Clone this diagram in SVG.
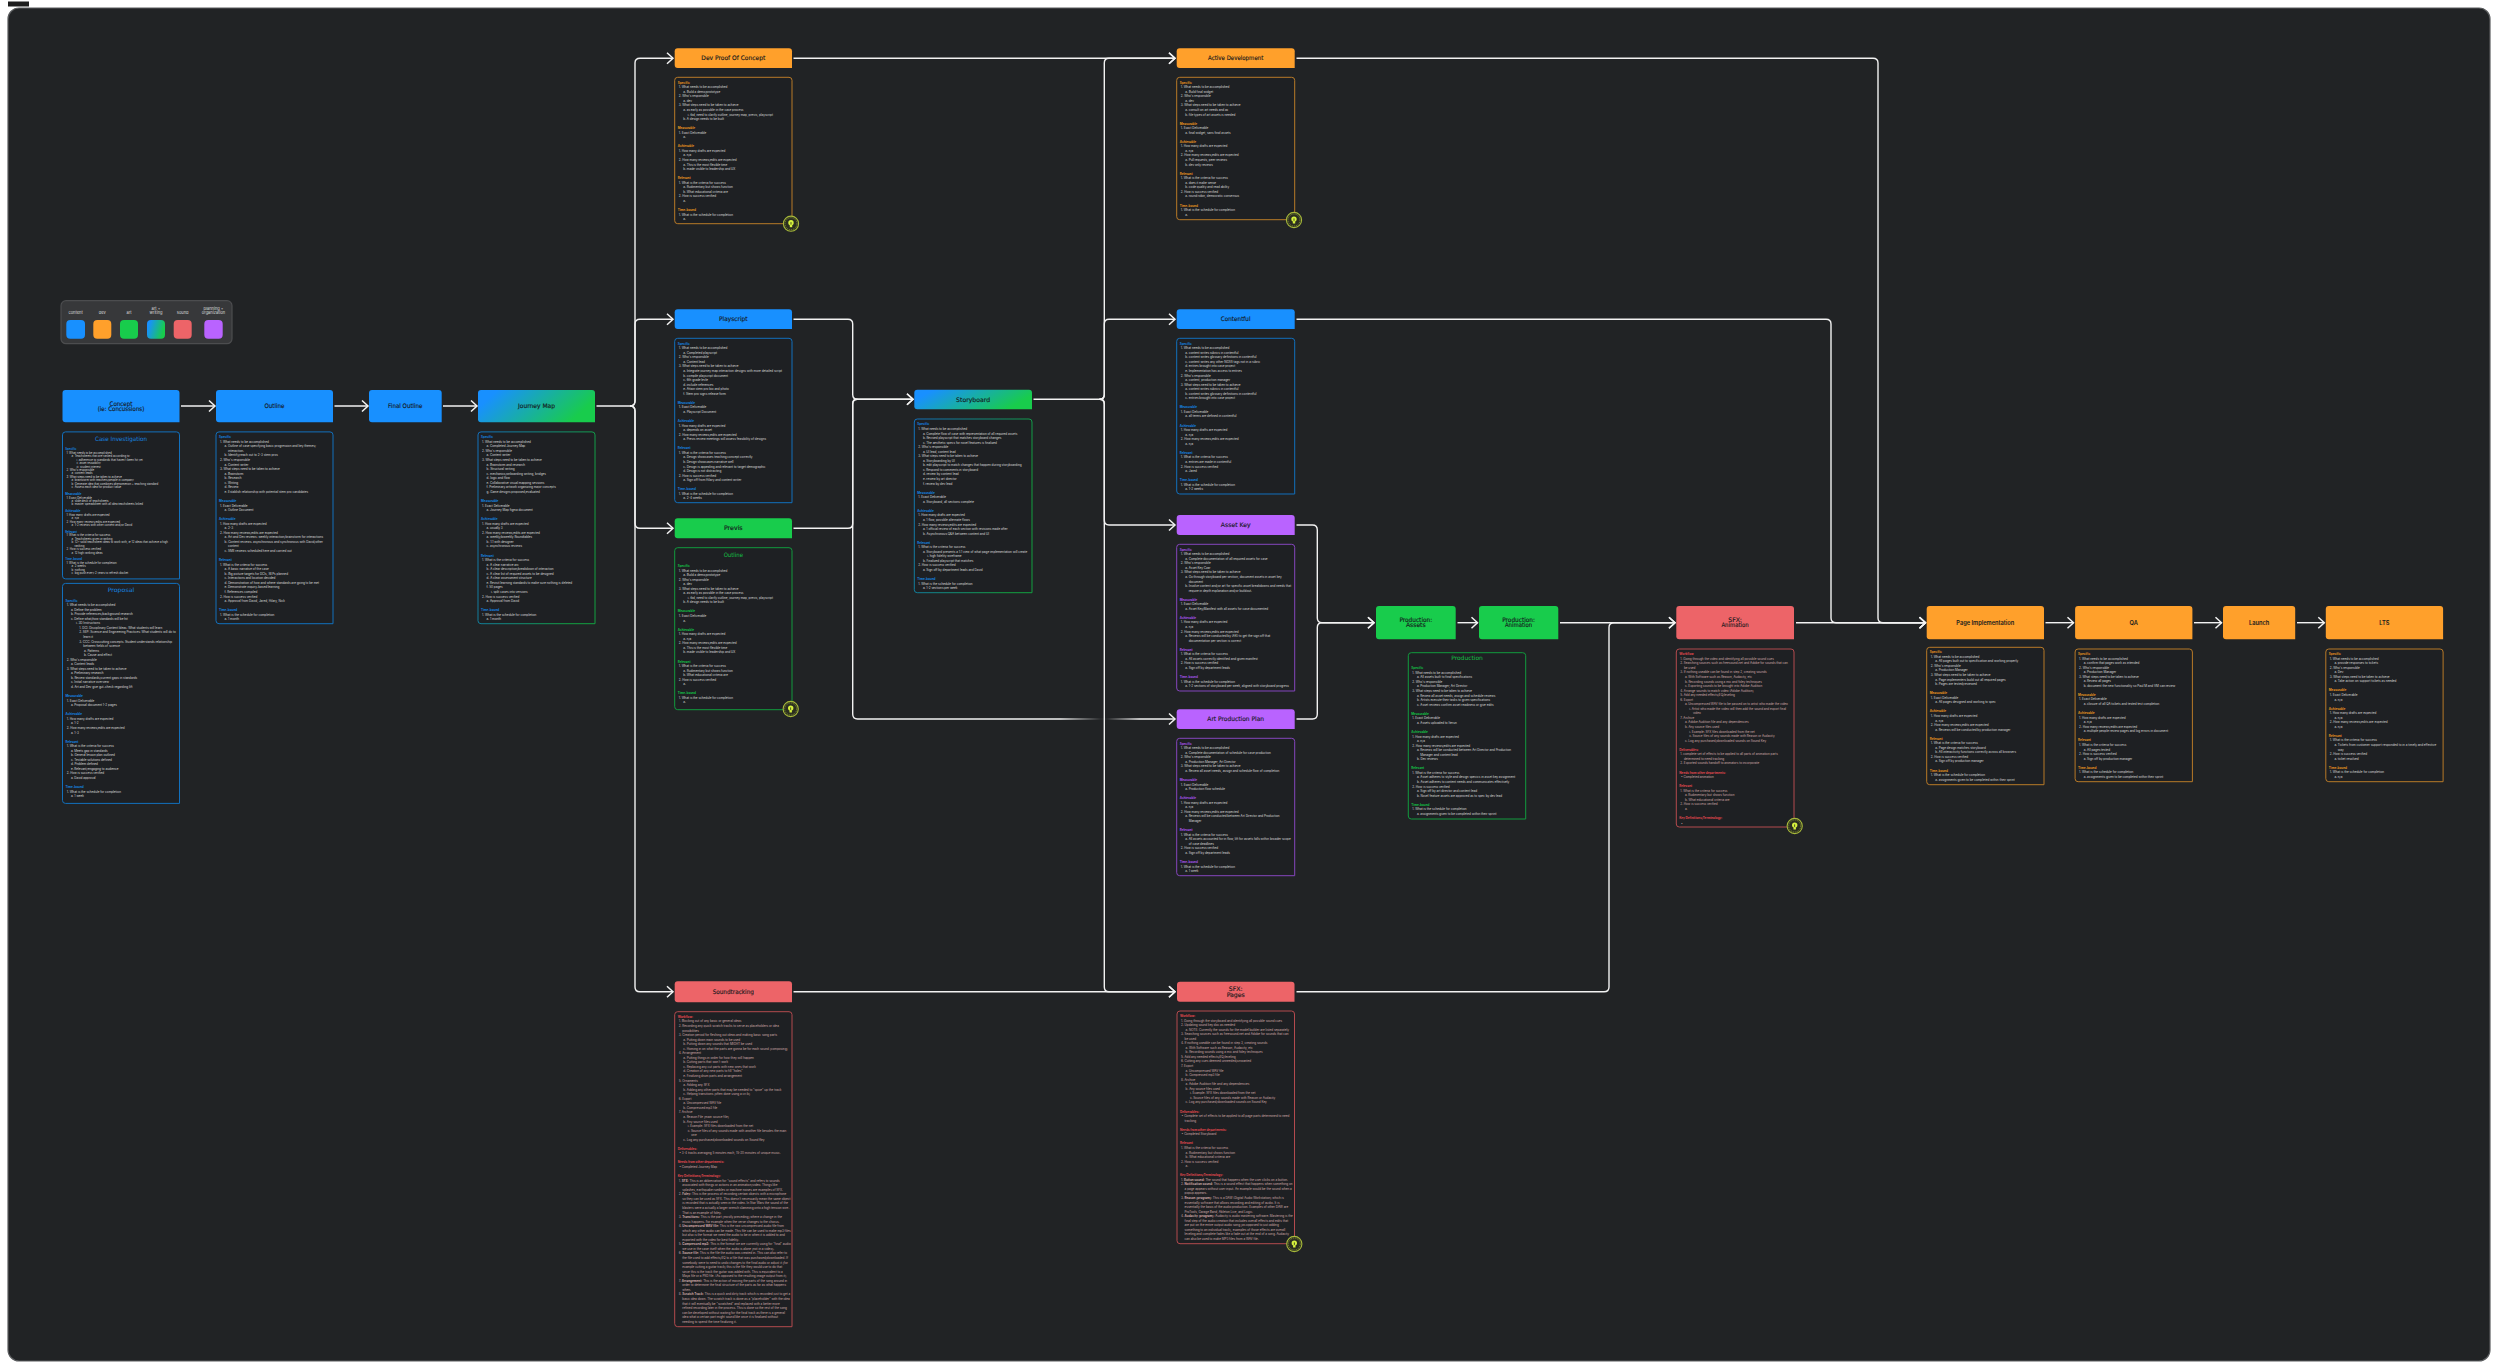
<svg xmlns="http://www.w3.org/2000/svg" width="2500" height="1370" viewBox="0 0 2500 1370">
<defs>
<linearGradient id="bg" x1="0" y1="0" x2="1" y2="0.3"><stop offset="0" stop-color="#1890ff"/><stop offset="0.15" stop-color="#1890ff"/><stop offset="1" stop-color="#18cc4c"/></linearGradient>
<linearGradient id="bgd" x1="0" y1="0" x2="1" y2="0.3"><stop offset="0" stop-color="#1270bd"/><stop offset="1" stop-color="#12a040"/></linearGradient>
<linearGradient id="fade" gradientUnits="userSpaceOnUse" x1="852" y1="0" x2="1175" y2="0"><stop offset="0" stop-color="#f2f2f2"/><stop offset="0.645" stop-color="#f2f2f2"/><stop offset="0.77" stop-color="#2a2c2e"/><stop offset="0.79" stop-color="#2a2c2e"/><stop offset="0.89" stop-color="#f2f2f2"/><stop offset="1" stop-color="#f2f2f2"/></linearGradient>
<marker id="ah" markerUnits="userSpaceOnUse" markerWidth="10" markerHeight="14" refX="7" refY="7" orient="auto" overflow="visible"><path d="M1,1.5L7,7L1,12.5" fill="none" stroke="#f2f2f2" stroke-width="1.5"/></marker>
<g id="bulb"><circle r="7.6" fill="#2b2e20" stroke="#a6b83a" stroke-width="1.1"/><circle r="6" fill="none" stroke="#a6b83a" stroke-width="0.6" stroke-dasharray="1.2 0.8"/><circle cy="-0.9" r="2.7" fill="#d6f23e"/><rect x="-1.2" y="1.2" width="2.4" height="2.3" fill="#d6f23e"/><rect x="-0.4" y="-1.6" width="0.8" height="2.5" fill="#2b2e20"/></g>
</defs>
<style>
.c{fill:none;stroke:#f2f2f2;stroke-width:1.4;marker-end:url(#ah)}
.nb{fill:#1890ff}.no{fill:#ffa02b}.ng{fill:#18cc4c}.nr{fill:#ed6468}.np{fill:#b963ff}.ngr{fill:url(#bg)}
.db,.do,.dg,.dr,.dp,.dgr{fill:#1e2023;stroke-width:1}
.db{stroke:#1270bd}.do{stroke:#b87a28}.dg{stroke:#129a3e}.dr{stroke:#b34a4e}.dp{stroke:#8546bd}.dgr{stroke:url(#bgd)}
.w{font-family:"DejaVu Sans","Liberation Sans",sans-serif;font-size:6.2px;text-anchor:middle;fill:#15181c;stroke:#15181c;stroke-width:0.14px}
.i{font-family:"Inter","Liberation Sans",sans-serif;font-size:5.7px;text-anchor:middle;fill:#15181c;font-weight:600}
.t{font-family:"Inter","Liberation Sans",sans-serif;font-size:3.02px;fill:#dadada}
.t2{font-family:"Inter","Liberation Sans",sans-serif;font-size:2.8px;fill:#dadada}
.r{fill:#cfa9a9}
.hb,.ho,.hg,.hr,.hp{font-weight:700}
.hb{fill:#1585e0}.ho{fill:#e8951f}.hg{fill:#14c046}.hr{fill:#e0484e}.hp{fill:#a855ec}
.b{font-weight:700}
.tb,.tg{font-family:"DejaVu Sans","Liberation Sans",sans-serif;font-size:6px;text-anchor:middle}
.tb{fill:#1585e0}.tg{fill:#14c046}
.lg{font-family:"Inter","Liberation Sans",sans-serif;font-size:4px;text-anchor:middle;fill:#dedede}
</style>
<rect width="2500" height="1370" fill="#ffffff"/>
<rect x="8" y="8" width="2482" height="1353" rx="11" fill="#212325" stroke="#5a5c5e" stroke-width="1.2"/>
<rect x="8" y="1.5" width="21" height="5" fill="#1d1d1d"/>
<g id="connectors">
<path class="c" d="M181,406H215"/><path class="c" d="M334.5,406H368"/><path class="c" d="M443,406H477"/>
<path class="c" d="M596.5,406H630Q635,406 635,401V63Q635,58.2 640,58.2H673"/>
<path class="c" d="M630,406Q635,406 635,401V324Q635,319.2 640,319.2H673"/>
<path class="c" d="M630,406Q635,406 635,411V523Q635,528.3 640,528.3H673"/>
<path class="c" d="M630,406Q635,406 635,411V987Q635,991.8 640,991.8H673"/>
<path class="c" d="M793.5,58.2H1175"/>
<path class="c" d="M793.5,319.2H848Q852.7,319.2 852.7,324V394.5Q852.7,399.3 857.5,399.3H913"/>
<path class="c" d="M793.5,528.3H848Q852.7,528.3 852.7,523.5V404Q852.7,399.3 857.5,399.3H913"/>
<path class="c" style="stroke:url(#fade)" d="M857.5,399.3Q852.7,399.3 852.7,404V714Q852.7,719 857.5,719H1175"/>
<path class="c" d="M793.5,991.8H1175"/>
<path class="c" d="M1033.5,399.3H1099.5Q1104.3,399.3 1104.3,394.5V63Q1104.3,58.2 1109,58.2H1175"/>
<path class="c" d="M1099.5,399.3Q1104.3,399.3 1104.3,394.5V324Q1104.3,319.2 1109,319.2H1175"/>
<path class="c" d="M1099.5,399.3Q1104.3,399.3 1104.3,404V520Q1104.3,525 1109,525H1175"/>
<path class="c" d="M1099.5,399.3Q1104.3,399.3 1104.3,404V987Q1104.3,991.8 1109,991.8H1175"/>
<path class="c" d="M1296.5,58.2H1873Q1878,58.2 1878,63V618Q1878,622.7 1883,622.7H1925.5"/>
<path class="c" d="M1296.5,319.2H1826Q1831,319.2 1831,324V618Q1831,622.7 1836,622.7H1925.5"/>
<path class="c" d="M1796,622.7H1925.5"/>
<path class="c" d="M1296.5,525H1312.5Q1317.3,525 1317.3,530V618Q1317.3,622.7 1322,622.7H1374"/>
<path class="c" d="M1296.5,719H1312.5Q1317.3,719 1317.3,714V627.5Q1317.3,622.7 1322,622.7H1374"/>
<path class="c" d="M1457.5,622.7H1477.5"/>
<path class="c" d="M1560,622.7H1675"/>
<path class="c" d="M1296.5,991.8H1604Q1609,991.8 1609,987V627.5Q1609,622.7 1614,622.7H1675"/>
<path class="c" d="M2045.5,622.7H2073.5"/><path class="c" d="M2194,622.7H2221.5"/><path class="c" d="M2297,622.7H2324.3"/>
</g>
<g id="legend">
<rect x="61" y="300.7" width="171" height="43" rx="5" fill="#37383a" stroke="#4c4d4f" stroke-width="1.2"/>
<text class="lg" x="75.6" y="314.4">content</text><text class="lg" x="102.3" y="314.4">dev</text><text class="lg" x="129" y="314.4">art</text><text class="lg" x="156" y="309.7">art +</text><text class="lg" x="156" y="314.4">writing</text><text class="lg" x="182.7" y="314.4">sound</text><text class="lg" x="213.5" y="309.7">planning +</text><text class="lg" x="213.5" y="314.4">organization</text>
<rect class="nb" x="66.3" y="320" width="18.7" height="18.7" rx="4"/><rect class="no" x="93.3" y="320" width="18" height="18.7" rx="4"/><rect class="ng" x="120" y="320" width="18" height="18.7" rx="4"/><rect x="147" y="320" width="18" height="18.7" rx="4" fill="url(#bg)"/><rect class="nr" x="173.7" y="320" width="18" height="18.7" rx="4"/><rect class="np" x="204.3" y="320" width="18.4" height="18.7" rx="4"/>
</g>
<g id="n-concept" transform="translate(62.5,390)"><path class="nb" d="M3,0H114q3,0 3,3V32.2H3q-3,0 -3,-3V3q0,-3 3,-3Z"/><text class="w" x="58.5" y="15.6" textLength="23" lengthAdjust="spacingAndGlyphs">Concept</text><text class="w" x="58.5" y="20.8" textLength="46.7" lengthAdjust="spacingAndGlyphs">(ie: Concussions)</text></g>
<g id="n-outline" transform="translate(216,390)"><path class="nb" d="M3,0H114q3,0 3,3V32.2H3q-3,0 -3,-3V3q0,-3 3,-3Z"/><text class="w" x="58.5" y="18.2" textLength="20" lengthAdjust="spacingAndGlyphs">Outline</text></g>
<g id="n-final-outline" transform="translate(369,390)"><path class="nb" d="M3,0H69.7q3,0 3,3V32.2H3q-3,0 -3,-3V3q0,-3 3,-3Z"/><text class="w" x="36.3" y="18.2" textLength="34.4" lengthAdjust="spacingAndGlyphs">Final Outline</text></g>
<g id="n-journey" transform="translate(478,390)"><path class="ngr" d="M3,0H114q3,0 3,3V32.2H3q-3,0 -3,-3V3q0,-3 3,-3Z"/><text class="w" x="58.5" y="18.2" textLength="37" lengthAdjust="spacingAndGlyphs">Journey Map</text></g>
<g id="d-case" transform="translate(62.5,431.9)"><path class="db" d="M3,0H114q3,0 3,3V147H3q-3,0 -3,-3V3q0,-3 3,-3Z"/><text class="tb" x="58.5" y="9.5" textLength="52" lengthAdjust="spacingAndGlyphs">Case Investigation</text>
<text class="t2" y="18.5"><tspan class="hb" x="2.7">Specific</tspan><tspan x="3.9" dy="3.44">1. What needs to be accomplished</tspan><tspan x="9" dy="3.44">a. Teachsheets that are ranked according to:</tspan><tspan x="14" dy="3.44">i. adherence to standards that haven't been hit yet</tspan><tspan x="14" dy="3.44">ii. asset reusability</tspan><tspan x="14" dy="3.44">iii. student interest</tspan><tspan x="3.9" dy="3.44">2. Who's responsible</tspan><tspan x="9" dy="3.44">a. content leads</tspan><tspan x="3.9" dy="3.44">3. What steps need to be taken to achieve</tspan><tspan x="9" dy="3.44">a. brainstorm with teachers/people in company</tspan><tspan x="9" dy="3.44">b. Generate idea that combines phenomenon + teaching standard</tspan><tspan x="9" dy="3.44">c. Assess each idea for product value</tspan>
<tspan class="hb" x="2.7" dy="6.88">Measurable</tspan><tspan x="3.9" dy="3.44">1. Exact Deliverable</tspan><tspan x="9" dy="3.44">a. slide deck of teachsheets</tspan><tspan x="9" dy="3.44">b. master spreadsheet with all idea teachsheets linked</tspan>
<tspan class="hb" x="2.7" dy="6.88">Achievable</tspan><tspan x="3.9" dy="3.44">1. How many drafts are expected</tspan><tspan x="9" dy="3.44">a. n/a</tspan><tspan x="3.9" dy="3.44">2. How many reviews/edits are expected</tspan><tspan x="9" dy="3.44">a. 1-2 reviews with other content and/or David</tspan>
<tspan class="hb" x="2.7" dy="6.88">Relevant</tspan><tspan x="3.9" dy="3.44">1. What is the criteria for success</tspan><tspan x="9" dy="3.44">a. Teachsheets given a ranking</tspan><tspan x="9" dy="3.44">b. 12+ solid teachsheet ideas to work with, ie 12 ideas that achieve a high</tspan><tspan x="12" dy="3.44">ranking</tspan><tspan x="3.9" dy="3.44">2. How is success verified</tspan><tspan x="9" dy="3.44">a. 12 high ranking ideas</tspan>
<tspan class="hb" x="2.7" dy="6.88">Time-bound</tspan><tspan x="3.9" dy="3.44">1. What is the schedule for completion</tspan><tspan x="9" dy="3.44">a. 2 weeks</tspan><tspan x="9" dy="3.44">b. nothing</tspan><tspan x="9" dy="3.44">c. big push every 2 years to refresh docket</tspan></text></g>
<g id="d-proposal" transform="translate(62.5,583.4)"><path class="db" d="M3,0H114q3,0 3,3V220H3q-3,0 -3,-3V3q0,-3 3,-3Z"/><text class="tb" x="58.5" y="8.8" textLength="26.7" lengthAdjust="spacingAndGlyphs">Proposal</text>
<text class="t" y="18.2"><tspan class="hb" x="3">Specific</tspan><tspan x="4.2" dy="4.55">1. What needs to be accomplished</tspan><tspan x="8.4" dy="4.55">a. Define the problem</tspan><tspan x="8.4" dy="4.55">b. Provide references/background research</tspan><tspan x="8.4" dy="4.55">c. Define what/how standards will be hit</tspan><tspan x="13.5" dy="4.55">i. 3D Instructions</tspan><tspan x="16.8" dy="4.55">1. DCI: Disciplinary Content Ideas: What students will learn</tspan><tspan x="16.8" dy="4.55">2. SEP: Science and Engineering Practices: What students will do to</tspan><tspan x="20.8" dy="4.55">learn it</tspan><tspan x="16.8" dy="4.55">3. CCC: Crosscutting concepts: Student understands relationship</tspan><tspan x="20.8" dy="4.55">between fields of science</tspan><tspan x="21.5" dy="4.55">a. Patterns</tspan><tspan x="21.5" dy="4.55">b. Cause and effect</tspan><tspan x="4.2" dy="4.55">2. Who's responsible</tspan><tspan x="8.4" dy="4.55">a. Content leads</tspan><tspan x="4.2" dy="4.55">3. What steps need to be taken to achieve</tspan><tspan x="8.4" dy="4.55">a. Preliminary research</tspan><tspan x="8.4" dy="4.55">b. Review standards/current gaps in standards</tspan><tspan x="8.4" dy="4.55">c. Initial narrative overview</tspan><tspan x="8.4" dy="4.55">d. Art and Dev give gut-check regarding lift</tspan>
<tspan class="hb" x="3" dy="9.1">Measurable</tspan><tspan x="4.2" dy="4.55">1. Exact Deliverable</tspan><tspan x="8.4" dy="4.55">a. Proposal document 1-2 pages</tspan>
<tspan class="hb" x="3" dy="9.1">Achievable</tspan><tspan x="4.2" dy="4.55">1. How many drafts are expected</tspan><tspan x="8.4" dy="4.55">a. 1-2</tspan><tspan x="4.2" dy="4.55">2. How many reviews/edits are expected</tspan><tspan x="8.4" dy="4.55">a. 1-3</tspan>
<tspan class="hb" x="3" dy="9.1">Relevant</tspan><tspan x="4.2" dy="4.55">1. What is the criteria for success</tspan><tspan x="8.4" dy="4.55">a. Meets gap in standards</tspan><tspan x="8.4" dy="4.55">b. General lesson plan outlined</tspan><tspan x="8.4" dy="4.55">c. Testable solutions defined</tspan><tspan x="8.4" dy="4.55">d. Problem defined</tspan><tspan x="8.4" dy="4.55">e. Relevant/engaging to audience</tspan><tspan x="4.2" dy="4.55">2. How is success verified</tspan><tspan x="8.4" dy="4.55">a. David approval</tspan>
<tspan class="hb" x="3" dy="9.1">Time-bound</tspan><tspan x="4.2" dy="4.55">1. What is the schedule for completion</tspan><tspan x="8.4" dy="4.55">a. 1 week</tspan></text></g>
<g id="d-outline" transform="translate(216,431.9)"><path class="db" d="M3,0H114q3,0 3,3V191.8H3q-3,0 -3,-3V3q0,-3 3,-3Z"/>
<text class="t" y="6.4"><tspan class="hb" x="3">Specific</tspan><tspan x="4" dy="4.55">1. What needs to be accomplished</tspan><tspan x="8.6" dy="4.55">a. Outline of case specifying basic progression and key themes/</tspan><tspan x="12" dy="4.55">interaction.</tspan><tspan x="8.6" dy="4.55">b. Identify/reach out to 2-3 stem pros</tspan><tspan x="4" dy="4.55">2. Who's responsible</tspan><tspan x="8.6" dy="4.55">a. Content writer</tspan><tspan x="4" dy="4.55">3. What steps need to be taken to achieve</tspan><tspan x="8.6" dy="4.55">a. Brainstorm</tspan><tspan x="8.6" dy="4.55">b. Research</tspan><tspan x="8.6" dy="4.55">c. Writing</tspan><tspan x="8.6" dy="4.55">d. Review</tspan><tspan x="8.6" dy="4.55">e. Establish relationship with potential stem pro candidates</tspan>
<tspan class="hb" x="3" dy="9.1">Measurable</tspan><tspan x="4" dy="4.55">1. Exact Deliverable</tspan><tspan x="8.6" dy="4.55">a. Outline Document</tspan>
<tspan class="hb" x="3" dy="9.1">Achievable</tspan><tspan x="4" dy="4.55">1. How many drafts are expected</tspan><tspan x="8.6" dy="4.55">a. 2-3</tspan><tspan x="4" dy="4.55">2. How many reviews/edits are expected</tspan><tspan x="8.6" dy="4.55">a. Art and Dev reviews: weekly interaction/brainstorm for interactions</tspan><tspan x="8.6" dy="4.55">b. Content reviews: asynchronous and synchronous with David/other</tspan><tspan x="12" dy="4.55">content</tspan><tspan x="8.6" dy="4.55">c. SME reviews scheduled here and carried out</tspan>
<tspan class="hb" x="3" dy="9.1">Relevant</tspan><tspan x="4" dy="4.55">1. What is the criteria for success</tspan><tspan x="8.6" dy="4.55">a. A basic narrative of the case</tspan><tspan x="8.6" dy="4.55">b. Big picture targets for DCIs, SEPs planned</tspan><tspan x="8.6" dy="4.55">c. Interactions and location decided</tspan><tspan x="8.6" dy="4.55">d. Demonstration of how and where standards are going to be met</tspan><tspan x="8.6" dy="4.55">e. Demonstrate inquiry-based learning</tspan><tspan x="8.6" dy="4.55">f. References compiled</tspan><tspan x="4" dy="4.55">2. How is success verified</tspan><tspan x="8.6" dy="4.55">a. Approval from David, Jared, Hilary, Nick</tspan>
<tspan class="hb" x="3" dy="9.1">Time-bound</tspan><tspan x="4" dy="4.55">1. What is the schedule for completion</tspan><tspan x="8.6" dy="4.55">a. 1 month</tspan></text></g>
<g id="d-journey" transform="translate(478,431.9)"><path class="dgr" d="M3,0H114q3,0 3,3V191.8H3q-3,0 -3,-3V3q0,-3 3,-3Z"/>
<text class="t" y="6.4"><tspan class="hb" x="3">Specific</tspan><tspan x="4" dy="4.55">1. What needs to be accomplished</tspan><tspan x="8.6" dy="4.55">a. Completed Journey Map</tspan><tspan x="4" dy="4.55">2. Who's responsible</tspan><tspan x="8.6" dy="4.55">a. Content writer</tspan><tspan x="4" dy="4.55">3. What steps need to be taken to achieve</tspan><tspan x="8.6" dy="4.55">a. Brainstorm and research</tspan><tspan x="8.6" dy="4.55">b. Structural writing</tspan><tspan x="8.6" dy="4.55">c. mechanics/onboarding writing, bridges</tspan><tspan x="8.6" dy="4.55">d. logic and flow</tspan><tspan x="8.6" dy="4.55">e. Collaborative visual mapping sessions</tspan><tspan x="8.6" dy="4.55">f. Preliminary artwork organizing major concepts</tspan><tspan x="8.6" dy="4.55">g. Game designs proposed/evaluated</tspan>
<tspan class="hb" x="3" dy="9.1">Measurable</tspan><tspan x="4" dy="4.55">1. Exact Deliverable</tspan><tspan x="8.6" dy="4.55">a. Journey Map figma document</tspan>
<tspan class="hb" x="3" dy="9.1">Achievable</tspan><tspan x="4" dy="4.55">1. How many drafts are expected</tspan><tspan x="8.6" dy="4.55">a. usually 3</tspan><tspan x="4" dy="4.55">2. How many reviews/edits are expected</tspan><tspan x="8.6" dy="4.55">a. weekly/biweekly Roundtables</tspan><tspan x="8.6" dy="4.55">b. 1:1 with designer</tspan><tspan x="8.6" dy="4.55">c. asynchronous reviews</tspan>
<tspan class="hb" x="3" dy="9.1">Relevant</tspan><tspan x="4" dy="4.55">1. What is the criteria for success</tspan><tspan x="8.6" dy="4.55">a. A clear narrative arc</tspan><tspan x="8.6" dy="4.55">b. A clear description/breakdown of interaction</tspan><tspan x="8.6" dy="4.55">c. A clear list of required assets to be designed</tspan><tspan x="8.6" dy="4.55">d. A clear assessment structure</tspan><tspan x="8.6" dy="4.55">e. Revisit learning standards to make sure nothing is deleted</tspan><tspan x="8.6" dy="4.55">f. 50 pages</tspan><tspan x="13" dy="4.55">i. split cases into versions</tspan><tspan x="4" dy="4.55">2. How is success verified</tspan><tspan x="8.6" dy="4.55">a. Approval from David</tspan>
<tspan class="hb" x="3" dy="9.1">Time-bound</tspan><tspan x="4" dy="4.55">1. What is the schedule for completion</tspan><tspan x="8.6" dy="4.55">a. 1 month</tspan></text></g>
<g id="n-dev-poc" transform="translate(674.7,48.3)"><path class="no" d="M3,0H114.3q3,0 3,3V19.7H3q-3,0 -3,-3V3q0,-3 3,-3Z"/><text class="w" x="58.6" y="12" textLength="64" lengthAdjust="spacingAndGlyphs">Dev Proof Of Concept</text></g>
<g id="d-dev-poc" transform="translate(674.7,77.3)"><path class="do" d="M3,0H114.3q3,0 3,3V146.4H3q-3,0 -3,-3V3q0,-3 3,-3Z"/>
<text class="t" y="6.4"><tspan class="ho" x="3">Specific</tspan><tspan x="4" dy="4.55">1. What needs to be accomplished</tspan><tspan x="8.6" dy="4.55">a. Build a demo/prototype</tspan><tspan x="4" dy="4.55">2. Who's responsible</tspan><tspan x="8.6" dy="4.55">a. dev</tspan><tspan x="4" dy="4.55">3. What steps need to be taken to achieve</tspan><tspan x="8.6" dy="4.55">a. as early as possible in the case process</tspan><tspan x="13" dy="4.55">i. tbd, need to clarify outline, journey map, previs, playscript</tspan><tspan x="8.6" dy="4.55">b. A design needs to be built</tspan>
<tspan class="ho" x="3" dy="9.1">Measurable</tspan><tspan x="4" dy="4.55">1. Exact Deliverable</tspan><tspan x="8.6" dy="4.55">a.</tspan>
<tspan class="ho" x="3" dy="9.1">Achievable</tspan><tspan x="4" dy="4.55">1. How many drafts are expected</tspan><tspan x="8.6" dy="4.55">a. n/a</tspan><tspan x="4" dy="4.55">2. How many reviews/edits are expected</tspan><tspan x="8.6" dy="4.55">a. This is the most flexible time</tspan><tspan x="8.6" dy="4.55">b. made visible to leadership and UX</tspan>
<tspan class="ho" x="3" dy="9.1">Relevant</tspan><tspan x="4" dy="4.55">1. What is the criteria for success</tspan><tspan x="8.6" dy="4.55">a. Rudimentary but shows function</tspan><tspan x="8.6" dy="4.55">b. What educational criteria are</tspan><tspan x="4" dy="4.55">2. How is success verified</tspan><tspan x="8.6" dy="4.55">a.</tspan>
<tspan class="ho" x="3" dy="9.1">Time-bound</tspan><tspan x="4" dy="4.55">1. What is the schedule for completion</tspan><tspan x="8.6" dy="4.55">a.</tspan></text></g>
<use href="#bulb" x="791" y="223.7"/>
<g id="n-playscript" transform="translate(674.7,309.3)"><path class="nb" d="M3,0H114.3q3,0 3,3V19.7H3q-3,0 -3,-3V3q0,-3 3,-3Z"/><text class="w" x="58.6" y="12" textLength="28.7" lengthAdjust="spacingAndGlyphs">Playscript</text></g>
<g id="d-playscript" transform="translate(674.7,338.3)"><path class="db" d="M3,0H114.3q3,0 3,3V164.4H3q-3,0 -3,-3V3q0,-3 3,-3Z"/>
<text class="t" y="6.4"><tspan class="hb" x="3">Specific</tspan><tspan x="4" dy="4.55">1. What needs to be accomplished</tspan><tspan x="8.6" dy="4.55">a. Completed playscript</tspan><tspan x="4" dy="4.55">2. Who's responsible</tspan><tspan x="8.6" dy="4.55">a. Content lead</tspan><tspan x="4" dy="4.55">3. What steps need to be taken to achieve</tspan><tspan x="8.6" dy="4.55">a. Integrate journey map interaction designs with more detailed script</tspan><tspan x="8.6" dy="4.55">b. compile playscript document</tspan><tspan x="8.6" dy="4.55">c. 6th grade levle</tspan><tspan x="8.6" dy="4.55">d. include references</tspan><tspan x="8.6" dy="4.55">e. Attain stem pro bio and photo</tspan><tspan x="8.6" dy="4.55">f. Stem pro signs release form</tspan>
<tspan class="hb" x="3" dy="9.1">Measurable</tspan><tspan x="4" dy="4.55">1. Exact Deliverable</tspan><tspan x="8.6" dy="4.55">a. Playscript Document</tspan>
<tspan class="hb" x="3" dy="9.1">Achievable</tspan><tspan x="4" dy="4.55">1. How many drafts are expected</tspan><tspan x="8.6" dy="4.55">a. depends on asset</tspan><tspan x="4" dy="4.55">2. How many reviews/edits are expected</tspan><tspan x="8.6" dy="4.55">a. Previs review meetings will assess feasibility of designs</tspan>
<tspan class="hb" x="3" dy="9.1">Relevant</tspan><tspan x="4" dy="4.55">1. What is the criteria for success</tspan><tspan x="8.6" dy="4.55">a. Design showcases teaching concept correctly</tspan><tspan x="8.6" dy="4.55">b. Design showcases narrative well</tspan><tspan x="8.6" dy="4.55">c. Design is appealing and relevant to target demographic</tspan><tspan x="8.6" dy="4.55">d. Design is not distracting</tspan><tspan x="4" dy="4.55">2. How is success verified</tspan><tspan x="8.6" dy="4.55">a. Sign off from Hilary and content writer</tspan>
<tspan class="hb" x="3" dy="9.1">Time-bound</tspan><tspan x="4" dy="4.55">1. What is the schedule for completion</tspan><tspan x="8.6" dy="4.55">a. 2-4 weeks</tspan></text></g>
<g id="n-previs" transform="translate(674.7,518.3)"><path class="ng" d="M3,0H114.3q3,0 3,3V20H3q-3,0 -3,-3V3q0,-3 3,-3Z"/><text class="w" x="58.6" y="12.2" textLength="18.7" lengthAdjust="spacingAndGlyphs">Previs</text></g>
<g id="d-previs" transform="translate(674.7,547.7)"><path class="dg" d="M3,0H114.3q3,0 3,3V162H3q-3,0 -3,-3V3q0,-3 3,-3Z"/><text class="tg" x="58.6" y="9.8" textLength="19.3" lengthAdjust="spacingAndGlyphs">Outline</text>
<text class="t" y="19.3"><tspan class="hg" x="3">Specific</tspan><tspan x="4" dy="4.55">1. What needs to be accomplished</tspan><tspan x="8.6" dy="4.55">a. Build a demo/prototype</tspan><tspan x="4" dy="4.55">2. Who's responsible</tspan><tspan x="8.6" dy="4.55">a. dev</tspan><tspan x="4" dy="4.55">3. What steps need to be taken to achieve</tspan><tspan x="8.6" dy="4.55">a. as early as possible in the case process</tspan><tspan x="13" dy="4.55">i. tbd, need to clarify outline, journey map, previs, playscript</tspan><tspan x="8.6" dy="4.55">b. A design needs to be built</tspan>
<tspan class="hg" x="3" dy="9.1">Measurable</tspan><tspan x="4" dy="4.55">1. Exact Deliverable</tspan><tspan x="8.6" dy="4.55">a.</tspan>
<tspan class="hg" x="3" dy="9.1">Achievable</tspan><tspan x="4" dy="4.55">1. How many drafts are expected</tspan><tspan x="8.6" dy="4.55">a. n/a</tspan><tspan x="4" dy="4.55">2. How many reviews/edits are expected</tspan><tspan x="8.6" dy="4.55">a. This is the most flexible time</tspan><tspan x="8.6" dy="4.55">b. made visible to leadership and UX</tspan>
<tspan class="hg" x="3" dy="9.1">Relevant</tspan><tspan x="4" dy="4.55">1. What is the criteria for success</tspan><tspan x="8.6" dy="4.55">a. Rudimentary but shows function</tspan><tspan x="8.6" dy="4.55">b. What educational criteria are</tspan><tspan x="4" dy="4.55">2. How is success verified</tspan><tspan x="8.6" dy="4.55">a.</tspan>
<tspan class="hg" x="3" dy="9.1">Time-bound</tspan><tspan x="4" dy="4.55">1. What is the schedule for completion</tspan><tspan x="8.6" dy="4.55">a.</tspan></text></g>
<use href="#bulb" x="790.7" y="709"/>
<g id="n-soundtracking" transform="translate(674.7,981.3)"><path class="nr" d="M3,0H114.3q3,0 3,3V21H3q-3,0 -3,-3V3q0,-3 3,-3Z"/><text class="w" x="58.6" y="12.6" textLength="41.3" lengthAdjust="spacingAndGlyphs">Soundtracking</text></g>
<g id="d-soundtracking" transform="translate(674.7,1011.7)"><path class="dr" d="M3,0H114.3q3,0 3,3V315H3q-3,0 -3,-3V3q0,-3 3,-3Z"/>
<text class="t r" y="6.2"><tspan class="hr" x="3">Workflow:</tspan><tspan x="4" dy="4.55">1. Blocking out of any basic or general ideas</tspan><tspan x="4" dy="4.55">2. Recording any quick scratch tracks to serve as placeholders or idea</tspan><tspan x="7.6" dy="4.55">possibilities</tspan><tspan x="4" dy="4.55">3. Creation period for fleshing out ideas and making basic song parts</tspan><tspan x="8.6" dy="4.55">a. Putting down main sounds to be used</tspan><tspan x="8.6" dy="4.55">b. Putting down any sounds that MIGHT be used</tspan><tspan x="8.6" dy="4.55">c. Homing in on what the parts are gonna be for each sound (composing)</tspan><tspan x="4" dy="4.55">4. Arrangement</tspan><tspan x="8.6" dy="4.55">a. Putting things in order for how they will happen</tspan><tspan x="8.6" dy="4.55">b. Cutting parts that won't work</tspan><tspan x="8.6" dy="4.55">c. Replacing any cut parts with new ones that work</tspan><tspan x="8.6" dy="4.55">d. Creation of any new parts to fill "holes"</tspan><tspan x="8.6" dy="4.55">e. Finalizing drum parts and arrangement</tspan><tspan x="4" dy="4.55">5. Ornaments</tspan><tspan x="8.6" dy="4.55">a. Adding any SFX</tspan><tspan x="8.6" dy="4.55">b. Adding any other parts that may be needed to "spice" up the track</tspan><tspan x="8.6" dy="4.55">c. Helping transitions (often done using a cri b)</tspan><tspan x="4" dy="4.55">6. Export</tspan><tspan x="8.6" dy="4.55">a. Uncompressed WAV file</tspan><tspan x="8.6" dy="4.55">b. Compressed mp3 file</tspan><tspan x="4" dy="4.55">7. Archive</tspan><tspan x="8.6" dy="4.55">a. Reason File (main source file)</tspan><tspan x="8.6" dy="4.55">b. Any source files used</tspan><tspan x="13" dy="4.55">i. Example: SFX files downloaded from the net</tspan><tspan x="13" dy="4.55">ii. Source files of any sounds made with another file besides the main</tspan><tspan x="16.6" dy="4.55">one</tspan><tspan x="8.6" dy="4.55">c. Log any purchased/downloaded sounds on Sound Key</tspan>
<tspan class="hr" x="3" dy="9.1">Deliverables:</tspan><tspan x="4.6" dy="4.55">• 3-4 tracks averaging 5 minutes each, 15-20 minutes of unique music.</tspan>
<tspan class="hr" x="3" dy="9.1">Needs from other departments:</tspan><tspan x="4.6" dy="4.55">• Completed Journey Map</tspan>
<tspan class="hr" x="3" dy="9.1">Key Definitions/Terminology:</tspan><tspan x="4" dy="4.55">1. <tspan class="b">SFX:</tspan> This is an abbreviation for "sound effects" and refers to sounds</tspan><tspan x="7.6" dy="4.55">associated with things or actions in an animation/video. Things like</tspan><tspan x="7.6" dy="4.55">splashes, earthquake rumbles or machine noises are examples of SFX.</tspan><tspan x="4" dy="4.55">2. <tspan class="b">Foley:</tspan> This is the process of recording certain objects with a microphone</tspan><tspan x="7.6" dy="4.55">so they can be used as SFX. This doesn't necessarily mean the same object</tspan><tspan x="7.6" dy="4.55">is recorded that is actually seen in the video. In Star Wars the sound of the</tspan><tspan x="7.6" dy="4.55">blasters were a actually a larger wrench slamming onto a high tension wire.</tspan><tspan x="7.6" dy="4.55">That is an example of foley.</tspan><tspan x="4" dy="4.55">3. <tspan class="b">Transitions:</tspan> This is the part (mostly preceding) where a change in the</tspan><tspan x="7.6" dy="4.55">music happens. For example when the verse changes to the chorus.</tspan><tspan x="4" dy="4.55">4. <tspan class="b">Uncompressed WAV file:</tspan> This is the raw uncompressed audio file from</tspan><tspan x="7.6" dy="4.55">which any other audio can be made. This file can be used to make mp3 files</tspan><tspan x="7.6" dy="4.55">but also is the format we need the audio to be in when it is added to and</tspan><tspan x="7.6" dy="4.55">exported with the video for best fidelity.</tspan><tspan x="4" dy="4.55">5. <tspan class="b">Compressed mp3:</tspan> This is the format we are currently using for "final" audio</tspan><tspan x="7.6" dy="4.55">we use in the case itself when the audio is alone (not in a video).</tspan><tspan x="4" dy="4.55">6. <tspan class="b">Source file:</tspan> This is the file the audio was created in. This can also refer to</tspan><tspan x="7.6" dy="4.55">the file used to add effects/EQ to a file that was purchased/downloaded. If</tspan><tspan x="7.6" dy="4.55">somebody were to need to undo changes to the final audio or adjust it (for</tspan><tspan x="7.6" dy="4.55">example cutting a guitar track) this is the file they would use to do that</tspan><tspan x="7.6" dy="4.55">since this is the track the guitar was added with. This is equivalent to a</tspan><tspan x="7.6" dy="4.55">Maya file or a PSD file. (As opposed to the resulting image output from it)</tspan><tspan x="4" dy="4.55">7. <tspan class="b">Arrangement:</tspan> This is the action of moving the parts of the song around in</tspan><tspan x="7.6" dy="4.55">order to determine the final structure of the parts as far as what happens</tspan><tspan x="7.6" dy="4.55">when.</tspan><tspan x="4" dy="4.55">8. <tspan class="b">Scratch Track:</tspan> This is a quick and dirty track which is recorded just to get a</tspan><tspan x="7.6" dy="4.55">basic idea down. The scratch track is done as a "placeholder" with the idea</tspan><tspan x="7.6" dy="4.55">that it will eventually be "scratched" and replaced with a better more</tspan><tspan x="7.6" dy="4.55">refined recording later in the process. This is done so the rest of the song</tspan><tspan x="7.6" dy="4.55">can be developed without waiting for the final track as there is a general</tspan><tspan x="7.6" dy="4.55">idea what a certain part might sound like once it is finalized without</tspan><tspan x="7.6" dy="4.55">needing to spend the time finalizing it.</tspan></text></g>
<g id="n-storyboard" transform="translate(914.3,389.7)"><path class="ngr" d="M3,0H114.7q3,0 3,3V19.6H3q-3,0 -3,-3V3q0,-3 3,-3Z"/><text class="w" x="58.8" y="12" textLength="34" lengthAdjust="spacingAndGlyphs">Storyboard</text></g>
<g id="d-storyboard" transform="translate(914.3,419)"><path class="dgr" d="M3,0H114.7q3,0 3,3V173.7H3q-3,0 -3,-3V3q0,-3 3,-3Z"/>
<text class="t" y="6.4"><tspan class="hb" x="3">Specific</tspan><tspan x="4" dy="4.55">1. What needs to be accomplished</tspan><tspan x="8.6" dy="4.55">a. Complete flow of case with representation of all required assets</tspan><tspan x="8.6" dy="4.55">b. Revised playscript that matches storyboard changes</tspan><tspan x="8.6" dy="4.55">c. The aesthetic specs for novel features is finalized</tspan><tspan x="4" dy="4.55">2. Who's responsible</tspan><tspan x="8.6" dy="4.55">a. UI lead, content lead</tspan><tspan x="4" dy="4.55">3. What steps need to be taken to achieve</tspan><tspan x="8.6" dy="4.55">a. Storyboarding by UI</tspan><tspan x="8.6" dy="4.55">b. edit playscript to match changes that happen during storyboarding</tspan><tspan x="8.6" dy="4.55">c. Respond to comments in storyboard</tspan><tspan x="8.6" dy="4.55">d. review by content lead</tspan><tspan x="8.6" dy="4.55">e. review by art director</tspan><tspan x="8.6" dy="4.55">f. review by dev lead</tspan>
<tspan class="hb" x="3" dy="9.1">Measurable</tspan><tspan x="4" dy="4.55">1. Exact Deliverable</tspan><tspan x="8.6" dy="4.55">a. Storyboard, all sections complete</tspan>
<tspan class="hb" x="3" dy="9.1">Achievable</tspan><tspan x="4" dy="4.55">1. How many drafts are expected</tspan><tspan x="8.6" dy="4.55">a. 1 flow, possible alternate flows</tspan><tspan x="4" dy="4.55">2. How many reviews/edits are expected</tspan><tspan x="8.6" dy="4.55">a. 1 official review of each section with revisions made after</tspan><tspan x="8.6" dy="4.55">b. Asynchronous Q&amp;A between content and UI</tspan>
<tspan class="hb" x="3" dy="9.1">Relevant</tspan><tspan x="4" dy="4.55">1. What is the criteria for success</tspan><tspan x="8.6" dy="4.55">a. Storyboard presents a 1:1 view of what page implementation will create</tspan><tspan x="13" dy="4.55">i. high fidelity wireframe</tspan><tspan x="8.6" dy="4.55">b. Finalized playscript that matches</tspan><tspan x="4" dy="4.55">2. How is success verified</tspan><tspan x="8.6" dy="4.55">a. Sign off by department leads and David</tspan>
<tspan class="hb" x="3" dy="9.1">Time-bound</tspan><tspan x="4" dy="4.55">1. What is the schedule for completion</tspan><tspan x="8.6" dy="4.55">a. 1-2 sections per week</tspan></text></g>
<g id="n-active" transform="translate(1176.7,48.3)"><path class="no" d="M3,0H115q3,0 3,3V19.7H3q-3,0 -3,-3V3q0,-3 3,-3Z"/><text class="w" x="59" y="12" textLength="55.3" lengthAdjust="spacingAndGlyphs">Active Development</text></g>
<g id="d-active" transform="translate(1176.7,77.3)"><path class="do" d="M3,0H115q3,0 3,3V142.4H3q-3,0 -3,-3V3q0,-3 3,-3Z"/>
<text class="t" y="6.4"><tspan class="ho" x="3">Specific</tspan><tspan x="4" dy="4.55">1. What needs to be accomplished</tspan><tspan x="8.6" dy="4.55">a. Build final widget</tspan><tspan x="4" dy="4.55">2. Who's responsible</tspan><tspan x="8.6" dy="4.55">a. dev</tspan><tspan x="4" dy="4.55">3. What steps need to be taken to achieve</tspan><tspan x="8.6" dy="4.55">a. consult on art needs and ax</tspan><tspan x="8.6" dy="4.55">b. file types of art assets is needed</tspan>
<tspan class="ho" x="3" dy="9.1">Measurable</tspan><tspan x="4" dy="4.55">1. Exact Deliverable</tspan><tspan x="8.6" dy="4.55">a. final widget, sans final assets</tspan>
<tspan class="ho" x="3" dy="9.1">Achievable</tspan><tspan x="4" dy="4.55">1. How many drafts are expected</tspan><tspan x="8.6" dy="4.55">a. n/a</tspan><tspan x="4" dy="4.55">2. How many reviews/edits are expected</tspan><tspan x="8.6" dy="4.55">a. Pull requests, peer reviews</tspan><tspan x="8.6" dy="4.55">b. dev only reviews</tspan>
<tspan class="ho" x="3" dy="9.1">Relevant</tspan><tspan x="4" dy="4.55">1. What is the criteria for success</tspan><tspan x="8.6" dy="4.55">a. does it make sense</tspan><tspan x="8.6" dy="4.55">b. code quality and read ability</tspan><tspan x="4" dy="4.55">2. How is success verified</tspan><tspan x="8.6" dy="4.55">a. round robin, democratic consensus</tspan>
<tspan class="ho" x="3" dy="9.1">Time-bound</tspan><tspan x="4" dy="4.55">1. What is the schedule for completion</tspan><tspan x="8.6" dy="4.55">a.</tspan></text></g>
<use href="#bulb" x="1294" y="220"/>
<g id="n-contentful" transform="translate(1176.7,309.3)"><path class="nb" d="M3,0H115q3,0 3,3V19.7H3q-3,0 -3,-3V3q0,-3 3,-3Z"/><text class="w" x="59" y="12" textLength="29.7" lengthAdjust="spacingAndGlyphs">Contentful</text></g>
<g id="d-contentful" transform="translate(1176.7,338.3)"><path class="db" d="M3,0H115q3,0 3,3V155.7H3q-3,0 -3,-3V3q0,-3 3,-3Z"/>
<text class="t" y="6.4"><tspan class="hb" x="3">Specific</tspan><tspan x="4" dy="4.55">1. What needs to be accomplished</tspan><tspan x="8.6" dy="4.55">a. content writes rubrics in contentful</tspan><tspan x="8.6" dy="4.55">b. content writes glossary definitions in contentful</tspan><tspan x="8.6" dy="4.55">c. content writes any other NGSS tags not in a rubric</tspan><tspan x="8.6" dy="4.55">d. entries brought into case project</tspan><tspan x="8.6" dy="4.55">e. Implementation has access to entries</tspan><tspan x="4" dy="4.55">2. Who's responsible</tspan><tspan x="8.6" dy="4.55">a. content, production manager</tspan><tspan x="4" dy="4.55">3. What steps need to be taken to achieve</tspan><tspan x="8.6" dy="4.55">a. content writes rubrics in contentful</tspan><tspan x="8.6" dy="4.55">b. content writes glossary definitions in contentful</tspan><tspan x="8.6" dy="4.55">c. entries brought into case project</tspan>
<tspan class="hb" x="3" dy="9.1">Measurable</tspan><tspan x="4" dy="4.55">1. Exact Deliverable</tspan><tspan x="8.6" dy="4.55">a. all terms are defined in contentful</tspan>
<tspan class="hb" x="3" dy="9.1">Achievable</tspan><tspan x="4" dy="4.55">1. How many drafts are expected</tspan><tspan x="8.6" dy="4.55">a. n/a</tspan><tspan x="4" dy="4.55">2. How many reviews/edits are expected</tspan><tspan x="8.6" dy="4.55">a. n/a</tspan>
<tspan class="hb" x="3" dy="9.1">Relevant</tspan><tspan x="4" dy="4.55">1. What is the criteria for success</tspan><tspan x="8.6" dy="4.55">a. entries are made in contentful</tspan><tspan x="4" dy="4.55">2. How is success verified</tspan><tspan x="8.6" dy="4.55">a. Jared</tspan>
<tspan class="hb" x="3" dy="9.1">Time-bound</tspan><tspan x="4" dy="4.55">1. What is the schedule for completion</tspan><tspan x="8.6" dy="4.55">a. 1-2 weeks</tspan></text></g>
<g id="n-asset-key" transform="translate(1176.7,515)"><path class="np" d="M3,0H115q3,0 3,3V20H3q-3,0 -3,-3V3q0,-3 3,-3Z"/><text class="w" x="59" y="12.2" textLength="29.7" lengthAdjust="spacingAndGlyphs">Asset Key</text></g>
<g id="d-asset-key" transform="translate(1176.7,544.3)"><path class="dp" d="M3,0H115q3,0 3,3V146.7H3q-3,0 -3,-3V3q0,-3 3,-3Z"/>
<text class="t" y="6.4"><tspan class="hp" x="3">Specific</tspan><tspan x="4" dy="4.55">1. What needs to be accomplished</tspan><tspan x="8.6" dy="4.55">a. Complete documentation of all required assets for case</tspan><tspan x="4" dy="4.55">2. Who's responsible</tspan><tspan x="8.6" dy="4.55">a. Asset Key Czar</tspan><tspan x="4" dy="4.55">3. What steps need to be taken to achieve</tspan><tspan x="8.6" dy="4.55">a. Go through storyboard per section, document assets in asset key</tspan><tspan x="12" dy="4.55">document</tspan><tspan x="8.6" dy="4.55">b. Involve content and/or art for specific asset breakdowns and needs that</tspan><tspan x="12" dy="4.55">require in depth explanation and/or buildout.</tspan>
<tspan class="hp" x="3" dy="9.1">Measurable</tspan><tspan x="4" dy="4.55">1. Exact Deliverable</tspan><tspan x="8.6" dy="4.55">a. Asset Key/Manifest with all assets for case documented</tspan>
<tspan class="hp" x="3" dy="9.1">Achievable</tspan><tspan x="4" dy="4.55">1. How many drafts are expected</tspan><tspan x="8.6" dy="4.55">a. n/a</tspan><tspan x="4" dy="4.55">2. How many reviews/edits are expected</tspan><tspan x="8.6" dy="4.55">a. Reviews will be conducted by (AK) to get the sign off that</tspan><tspan x="12" dy="4.55">documentation per section is correct</tspan>
<tspan class="hp" x="3" dy="9.1">Relevant</tspan><tspan x="4" dy="4.55">1. What is the criteria for success</tspan><tspan x="8.6" dy="4.55">a. All assets correctly identified and given manifest</tspan><tspan x="4" dy="4.55">2. How is success verified</tspan><tspan x="8.6" dy="4.55">a. Sign off by department leads</tspan>
<tspan class="hp" x="3" dy="9.1">Time-bound</tspan><tspan x="4" dy="4.55">1. What is the schedule for completion</tspan><tspan x="8.6" dy="4.55">a. 1-2 sections of storyboard per week, aligned with storyboard progress</tspan></text></g>
<g id="n-art-plan" transform="translate(1176.7,709.3)"><path class="np" d="M3,0H115q3,0 3,3V19.7H3q-3,0 -3,-3V3q0,-3 3,-3Z"/><text class="w" x="59" y="12" textLength="56.7" lengthAdjust="spacingAndGlyphs">Art Production Plan</text></g>
<g id="d-art-plan" transform="translate(1176.7,738.3)"><path class="dp" d="M3,0H115q3,0 3,3V137.4H3q-3,0 -3,-3V3q0,-3 3,-3Z"/>
<text class="t" y="6.4"><tspan class="hp" x="3">Specific</tspan><tspan x="4" dy="4.55">1. What needs to be accomplished</tspan><tspan x="8.6" dy="4.55">a. Complete documentation of schedule for case production</tspan><tspan x="4" dy="4.55">2. Who's responsible</tspan><tspan x="8.6" dy="4.55">a. Production Manager, Art Director</tspan><tspan x="4" dy="4.55">3. What steps need to be taken to achieve</tspan><tspan x="8.6" dy="4.55">a. Review all asset needs, assign and schedule flow of completion</tspan>
<tspan class="hp" x="3" dy="9.1">Measurable</tspan><tspan x="4" dy="4.55">1. Exact Deliverable</tspan><tspan x="8.6" dy="4.55">a. Production flow schedule</tspan>
<tspan class="hp" x="3" dy="9.1">Achievable</tspan><tspan x="4" dy="4.55">1. How many drafts are expected</tspan><tspan x="8.6" dy="4.55">a. n/a</tspan><tspan x="4" dy="4.55">2. How many reviews/edits are expected</tspan><tspan x="8.6" dy="4.55">a. Reviews will be conducted between Art Director and Production</tspan><tspan x="12" dy="4.55">Manager</tspan>
<tspan class="hp" x="3" dy="9.1">Relevant</tspan><tspan x="4" dy="4.55">1. What is the criteria for success</tspan><tspan x="8.6" dy="4.55">a. All assets accounted for in flow, lift for assets falls within broader scope</tspan><tspan x="12" dy="4.55">of case deadlines</tspan><tspan x="4" dy="4.55">2. How is success verified</tspan><tspan x="8.6" dy="4.55">a. Sign off by department leads</tspan>
<tspan class="hp" x="3" dy="9.1">Time-bound</tspan><tspan x="4" dy="4.55">1. What is the schedule for completion</tspan><tspan x="8.6" dy="4.55">a. 1 week</tspan></text></g>
<g id="n-sfx-pages" transform="translate(1177,981.7)"><path class="nr" d="M3,0H114.5q3,0 3,3V20H3q-3,0 -3,-3V3q0,-3 3,-3Z"/><text class="w" x="58.7" y="9.8" textLength="13.7" lengthAdjust="spacingAndGlyphs">SFX:</text><text class="w" x="58.7" y="14.9" textLength="18" lengthAdjust="spacingAndGlyphs">Pages</text></g>
<g id="d-sfx-pages" transform="translate(1177,1011)"><path class="dr" d="M3,0H114.5q3,0 3,3V232.7H3q-3,0 -3,-3V3q0,-3 3,-3Z"/>
<text class="t r" y="6"><tspan class="hr" x="3">Workflow:</tspan><tspan x="4" dy="4.55">1. Going through the storyboard and identifying all possible sound cues</tspan><tspan x="4" dy="4.55">2. Updating sound key doc as needed</tspan><tspan x="8.6" dy="4.55">a. NOTE: Currently the sounds for the model builder are listed separately</tspan><tspan x="4" dy="4.55">3. Searching sources such as freesound.net and Adobe for sounds that can</tspan><tspan x="7.6" dy="4.55">be used</tspan><tspan x="4" dy="4.55">4. If nothing useable can be found in step 3, creating sounds</tspan><tspan x="8.6" dy="4.55">a. With Software such as Reason, Audacity, etc</tspan><tspan x="8.6" dy="4.55">b. Recording sounds using a mic and foley techniques</tspan><tspan x="4" dy="4.55">5. Add any needed effects/EQ/leveling</tspan><tspan x="4" dy="4.55">6. Cutting any cues deemed unneeded/unwanted</tspan><tspan x="4" dy="4.55">7. Export</tspan><tspan x="8.6" dy="4.55">a. Uncompressed WAV file</tspan><tspan x="8.6" dy="4.55">b. Compressed mp3 file</tspan><tspan x="4" dy="4.55">8. Archive</tspan><tspan x="8.6" dy="4.55">a. Adobe Audition file and any dependencies</tspan><tspan x="8.6" dy="4.55">b. Any source files used</tspan><tspan x="13" dy="4.55">i. Example: SFX files downloaded from the net</tspan><tspan x="13" dy="4.55">ii. Source files of any sounds made with Reason or Audacity</tspan><tspan x="8.6" dy="4.55">c. Log any purchased/downloaded sounds on Sound Key</tspan>
<tspan class="hr" x="3" dy="9.1">Deliverables:</tspan><tspan x="4.6" dy="4.55">• Complete set of effects to be applied to all page parts determined to need</tspan><tspan x="7.6" dy="4.55">tracking</tspan>
<tspan class="hr" x="3" dy="9.1">Needs from other departments:</tspan><tspan x="4.6" dy="4.55">• Completed Storyboard</tspan>
<tspan class="hr" x="3" dy="9.1">Relevant</tspan><tspan x="4" dy="4.55">1. What is the criteria for success</tspan><tspan x="8.6" dy="4.55">a. Rudimentary but shows function</tspan><tspan x="8.6" dy="4.55">b. What educational criteria are</tspan><tspan x="4" dy="4.55">2. How is success verified</tspan><tspan x="8.6" dy="4.55">a.</tspan>
<tspan class="hr" x="3" dy="9.1">Key Definitions/Terminology:</tspan><tspan x="4" dy="4.55">1. <tspan class="b">Button sound:</tspan> The sound that happens when the user clicks on a button.</tspan><tspan x="4" dy="4.55">2. <tspan class="b">Notification sound:</tspan> This is a sound effect that happens when something on</tspan><tspan x="7.6" dy="4.55">a page appears without user input. An example would be the sound when a</tspan><tspan x="7.6" dy="4.55">popup appears.</tspan><tspan x="4" dy="4.55">3. <tspan class="b">Reason (program):</tspan> This is a DAW (Digital Audio Workstation) which is</tspan><tspan x="7.6" dy="4.55">essentially software that allows recording and editing of audio. It is</tspan><tspan x="7.6" dy="4.55">essentially the basis of the audio production. Examples of other DAW are</tspan><tspan x="7.6" dy="4.55">ProTools, Garage Band, Ableton Live, and Logic.</tspan><tspan x="4" dy="4.55">4. <tspan class="b">Audacity (program):</tspan> Audacity is audio mastering software. Mastering is the</tspan><tspan x="7.6" dy="4.55">final step of the audio creation that includes overall effects and edits that</tspan><tspan x="7.6" dy="4.55">are put on the entire output audio song (as opposed to just adding</tspan><tspan x="7.6" dy="4.55">something to an individual track), examples of those effects are overall</tspan><tspan x="7.6" dy="4.55">leveling and complete fades like a fade out at the end of a song. Audacity</tspan><tspan x="7.6" dy="4.55">can also be used to make MP3 files from a WAV file.</tspan></text></g>
<use href="#bulb" x="1294.3" y="1244"/>
<g id="n-prod-assets" transform="translate(1376,606)"><path class="ng" d="M3,0H76.7q3,0 3,3V33.3H3q-3,0 -3,-3V3q0,-3 3,-3Z"/><text class="w" x="39.8" y="16.3" textLength="32.7" lengthAdjust="spacingAndGlyphs">Production:</text><text class="w" x="39.8" y="21.4" textLength="19.7" lengthAdjust="spacingAndGlyphs">Assets</text></g>
<g id="n-prod-anim" transform="translate(1479,606)"><path class="ng" d="M3,0H76.3q3,0 3,3V33.3H3q-3,0 -3,-3V3q0,-3 3,-3Z"/><text class="w" x="39.6" y="16.3" textLength="32.7" lengthAdjust="spacingAndGlyphs">Production:</text><text class="w" x="39.6" y="21.4" textLength="27.3" lengthAdjust="spacingAndGlyphs">Animation</text></g>
<g id="d-production" transform="translate(1408.3,652.7)"><path class="dg" d="M3,0H114.4q3,0 3,3V166.3H3q-3,0 -3,-3V3q0,-3 3,-3Z"/><text class="tg" x="58.7" y="7.2" textLength="31.7" lengthAdjust="spacingAndGlyphs">Production</text>
<text class="t" y="16.6"><tspan class="hg" x="3">Specific</tspan><tspan x="4" dy="4.55">1. What needs to be accomplished</tspan><tspan x="8.6" dy="4.55">a. All assets built to final specifications</tspan><tspan x="4" dy="4.55">2. Who's responsible</tspan><tspan x="8.6" dy="4.55">a. Production Manager, Art Director</tspan><tspan x="4" dy="4.55">3. What steps need to be taken to achieve</tspan><tspan x="8.6" dy="4.55">a. Review all asset needs, assign and schedule reviews</tspan><tspan x="8.6" dy="4.55">b. Artists execute their tasks to given specifications</tspan><tspan x="8.6" dy="4.55">c. Asset reviews confirm asset readiness or give edits</tspan>
<tspan class="hg" x="3" dy="9.1">Measurable</tspan><tspan x="4" dy="4.55">1. Exact Deliverable</tspan><tspan x="8.6" dy="4.55">a. Assets uploaded to Iterun</tspan>
<tspan class="hg" x="3" dy="9.1">Achievable</tspan><tspan x="4" dy="4.55">1. How many drafts are expected</tspan><tspan x="8.6" dy="4.55">a. n/a</tspan><tspan x="4" dy="4.55">2. How many reviews/edits are expected</tspan><tspan x="8.6" dy="4.55">a. Reviews will be conducted between Art Director and Production</tspan><tspan x="12" dy="4.55">Manager and content lead</tspan><tspan x="8.6" dy="4.55">b. Dev reviews</tspan>
<tspan class="hg" x="3" dy="9.1">Relevant</tspan><tspan x="4" dy="4.55">1. What is the criteria for success</tspan><tspan x="8.6" dy="4.55">a. Asset adheres to style and design specics in asset key assignment</tspan><tspan x="8.6" dy="4.55">b. Asset adheres to content needs and communicates effectively</tspan><tspan x="4" dy="4.55">2. How is success verified</tspan><tspan x="8.6" dy="4.55">a. Sign off by art director and content lead</tspan><tspan x="8.6" dy="4.55">b. Novel feature assets are approved as to spec by dev lead</tspan>
<tspan class="hg" x="3" dy="9.1">Time-bound</tspan><tspan x="4" dy="4.55">1. What is the schedule for completion</tspan><tspan x="8.6" dy="4.55">a. assignments given to be completed within their sprint</tspan></text></g>
<g id="n-sfx-anim" transform="translate(1676.3,606)"><path class="nr" d="M3,0H114.7q3,0 3,3V33.3H3q-3,0 -3,-3V3q0,-3 3,-3Z"/><text class="w" x="58.8" y="16.3" textLength="13.7" lengthAdjust="spacingAndGlyphs">SFX:</text><text class="w" x="58.8" y="21.4" textLength="27.3" lengthAdjust="spacingAndGlyphs">Animation</text></g>
<g id="d-sfx-anim" transform="translate(1676.3,649)"><path class="dr" d="M3,0H114.7q3,0 3,3V178H3q-3,0 -3,-3V3q0,-3 3,-3Z"/>
<text class="t r" y="6.2"><tspan class="hr" x="3">Workflow</tspan><tspan x="4" dy="4.55">1. Going through the video and identifying all possible sound cues</tspan><tspan x="4" dy="4.55">2. Searching sources such as freesound.net and Adobe for sounds that can</tspan><tspan x="7.6" dy="4.55">be used</tspan><tspan x="4" dy="4.55">3. If nothing useable can be found in step 2, creating sounds</tspan><tspan x="8.6" dy="4.55">a. With Software such as Reason, Audacity, etc</tspan><tspan x="8.6" dy="4.55">b. Recording sounds using a mic and foley techniques</tspan><tspan x="8.6" dy="4.55">c. Exporting sounds to be brought into Adobe Audition</tspan><tspan x="4" dy="4.55">4. Arrange sounds to match video (Adobe Audition)</tspan><tspan x="4" dy="4.55">5. Add any needed effects/EQ/leveling</tspan><tspan x="4" dy="4.55">6. Export</tspan><tspan x="8.6" dy="4.55">a. Uncompressed WAV file to be passed on to artist who made the video</tspan><tspan x="13" dy="4.55">i. Artist who made the video will then add the sound and export final</tspan><tspan x="16.6" dy="4.55">video</tspan><tspan x="4" dy="4.55">7. Archive</tspan><tspan x="8.6" dy="4.55">a. Adobe Audition file and any dependencies</tspan><tspan x="8.6" dy="4.55">b. Any source files used</tspan><tspan x="13" dy="4.55">i. Example: SFX files downloaded from the net</tspan><tspan x="13" dy="4.55">ii. Source files of any sounds made with Reason or Audacity</tspan><tspan x="8.6" dy="4.55">c. Log any purchased/downloaded sounds on Sound Key</tspan>
<tspan class="hr" x="3" dy="9.1">Deliverables:</tspan><tspan x="4" dy="4.55">1. complete set of effects to be applied to all parts of animation parts</tspan><tspan x="7.6" dy="4.55">determined to need tracking</tspan><tspan x="4" dy="4.55">2. Exported sounds handoff to animators to incorporate</tspan>
<tspan class="hr" x="3" dy="9.1">Needs from other departments:</tspan><tspan x="4.6" dy="4.55">• Completed animation</tspan>
<tspan class="hr" x="3" dy="9.1">Relevant</tspan><tspan x="4" dy="4.55">1. What is the criteria for success</tspan><tspan x="8.6" dy="4.55">a. Rudimentary but shows function</tspan><tspan x="8.6" dy="4.55">b. What educational criteria are</tspan><tspan x="4" dy="4.55">2. How is success verified</tspan><tspan x="8.6" dy="4.55">a.</tspan>
<tspan class="hr" x="3" dy="9.1">Key Definitions/Terminology:</tspan><tspan x="4.6" dy="4.55">•</tspan></text></g>
<use href="#bulb" x="1794.7" y="826"/>
<g id="n-page-impl" transform="translate(1926.7,606)"><path class="no" d="M3,0H114.3q3,0 3,3V33.3H3q-3,0 -3,-3V3q0,-3 3,-3Z"/><text class="i" x="58.6" y="18.8">Page Implementation</text></g>
<g id="d-page-impl" transform="translate(1926.7,647.3)"><path class="do" d="M3,0H114.3q3,0 3,3V137.4H3q-3,0 -3,-3V3q0,-3 3,-3Z"/>
<text class="t" y="6"><tspan class="ho" x="3">Specific</tspan><tspan x="4" dy="4.55">1. What needs to be accomplished</tspan><tspan x="8.6" dy="4.55">a. All pages built out to specification and working properly</tspan><tspan x="4" dy="4.55">2. Who's responsible</tspan><tspan x="8.6" dy="4.55">a. Production Manager</tspan><tspan x="4" dy="4.55">3. What steps need to be taken to achieve</tspan><tspan x="8.6" dy="4.55">a. Page implementers build out all required pages</tspan><tspan x="8.6" dy="4.55">b. Pages are tested/reviewed</tspan>
<tspan class="ho" x="3" dy="9.1">Measurable</tspan><tspan x="4" dy="4.55">1. Exact Deliverable</tspan><tspan x="8.6" dy="4.55">a. All pages designed and working to spec</tspan>
<tspan class="ho" x="3" dy="9.1">Achievable</tspan><tspan x="4" dy="4.55">1. How many drafts are expected</tspan><tspan x="8.6" dy="4.55">a. n/a</tspan><tspan x="4" dy="4.55">2. How many reviews/edits are expected</tspan><tspan x="8.6" dy="4.55">a. Reviews will be conducted by production manager</tspan>
<tspan class="ho" x="3" dy="9.1">Relevant</tspan><tspan x="4" dy="4.55">1. What is the criteria for success</tspan><tspan x="8.6" dy="4.55">a. Page design matches storyboard</tspan><tspan x="8.6" dy="4.55">b. All interactivity functions correctly across all browsers</tspan><tspan x="4" dy="4.55">2. How is success verified</tspan><tspan x="8.6" dy="4.55">a. Sign off by production manager</tspan>
<tspan class="ho" x="3" dy="9.1">Time-bound</tspan><tspan x="4" dy="4.55">1. What is the schedule for completion</tspan><tspan x="8.6" dy="4.55">a. assignments given to be completed within their sprint</tspan></text></g>
<g id="n-qa" transform="translate(2075.1,606)"><path class="no" d="M3,0H114.3q3,0 3,3V33.3H3q-3,0 -3,-3V3q0,-3 3,-3Z"/><text class="i" x="58.6" y="18.8">QA</text></g>
<g id="d-qa" transform="translate(2075.1,649)"><path class="do" d="M3,0H114.3q3,0 3,3V132.7H3q-3,0 -3,-3V3q0,-3 3,-3Z"/>
<text class="t" y="6"><tspan class="ho" x="3">Specific</tspan><tspan x="4" dy="4.55">1. What needs to be accomplished</tspan><tspan x="8.6" dy="4.55">a. confirm that pages work as intended</tspan><tspan x="4" dy="4.55">2. Who's responsible</tspan><tspan x="8.6" dy="4.55">a. Production Manager</tspan><tspan x="4" dy="4.55">3. What steps need to be taken to achieve</tspan><tspan x="8.6" dy="4.55">a. Review all pages</tspan><tspan x="8.6" dy="4.55">b. document the new functionality so Paul M and VM can review</tspan>
<tspan class="ho" x="3" dy="9.1">Measurable</tspan><tspan x="4" dy="4.55">1. Exact Deliverable</tspan><tspan x="8.6" dy="4.55">a. closure of all QA tickets and tested test completion</tspan>
<tspan class="ho" x="3" dy="9.1">Achievable</tspan><tspan x="4" dy="4.55">1. How many drafts are expected</tspan><tspan x="8.6" dy="4.55">a. n/a</tspan><tspan x="4" dy="4.55">2. How many reviews/edits are expected</tspan><tspan x="8.6" dy="4.55">a. multiple people review pages and log errors in document</tspan>
<tspan class="ho" x="3" dy="9.1">Relevant</tspan><tspan x="4" dy="4.55">1. What is the criteria for success</tspan><tspan x="8.6" dy="4.55">a. All pages tested</tspan><tspan x="4" dy="4.55">2. How is success verified</tspan><tspan x="8.6" dy="4.55">a. Sign off by production manager</tspan>
<tspan class="ho" x="3" dy="9.1">Time-bound</tspan><tspan x="4" dy="4.55">1. What is the schedule for completion</tspan><tspan x="8.6" dy="4.55">a. assignments given to be completed within their sprint</tspan></text></g>
<g id="n-launch" transform="translate(2223,606)"><path class="no" d="M3,0H69.2q3,0 3,3V33.3H3q-3,0 -3,-3V3q0,-3 3,-3Z"/><text class="i" x="36.1" y="18.8">Launch</text></g>
<g id="n-lts" transform="translate(2325.8,606)"><path class="no" d="M3,0H114.3q3,0 3,3V33.3H3q-3,0 -3,-3V3q0,-3 3,-3Z"/><text class="i" x="58.6" y="18.8">LTS</text></g>
<g id="d-lts" transform="translate(2325.8,649)"><path class="do" d="M3,0H114.3q3,0 3,3V132.7H3q-3,0 -3,-3V3q0,-3 3,-3Z"/>
<text class="t" y="6"><tspan class="ho" x="3">Specific</tspan><tspan x="4" dy="4.55">1. What needs to be accomplished</tspan><tspan x="8.6" dy="4.55">a. provide responses to tickets</tspan><tspan x="4" dy="4.55">2. Who's responsible</tspan><tspan x="8.6" dy="4.55">a. Dev</tspan><tspan x="4" dy="4.55">3. What steps need to be taken to achieve</tspan><tspan x="8.6" dy="4.55">a. Take action on support tickets as needed</tspan>
<tspan class="ho" x="3" dy="9.1">Measurable</tspan><tspan x="4" dy="4.55">1. Exact Deliverable</tspan><tspan x="8.6" dy="4.55">a. n/a</tspan>
<tspan class="ho" x="3" dy="9.1">Achievable</tspan><tspan x="4" dy="4.55">1. How many drafts are expected</tspan><tspan x="8.6" dy="4.55">a. n/a</tspan><tspan x="4" dy="4.55">2. How many reviews/edits are expected</tspan><tspan x="8.6" dy="4.55">a. n/a</tspan>
<tspan class="ho" x="3" dy="9.1">Relevant</tspan><tspan x="4" dy="4.55">1. What is the criteria for success</tspan><tspan x="8.6" dy="4.55">a. Tickets from customer support responded to in a timely and effective</tspan><tspan x="12" dy="4.55">way</tspan><tspan x="4" dy="4.55">2. How is success verified</tspan><tspan x="8.6" dy="4.55">a. ticket resolved</tspan>
<tspan class="ho" x="3" dy="9.1">Time-bound</tspan><tspan x="4" dy="4.55">1. What is the schedule for completion</tspan><tspan x="8.6" dy="4.55">a. n/a</tspan></text></g>
</svg>
